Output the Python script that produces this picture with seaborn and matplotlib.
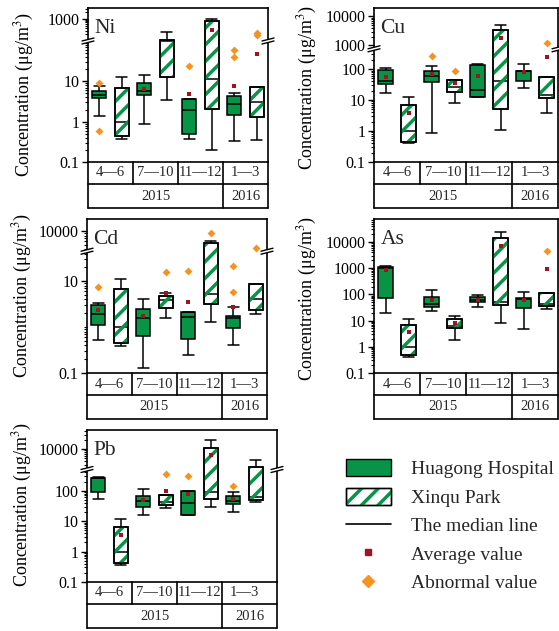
import numpy as np
import pandas as pd
import matplotlib
matplotlib.use("Agg")
import matplotlib.pyplot as plt
import seaborn as sns
from matplotlib.patches import Patch, PathPatch, Polygon
from matplotlib.lines import Line2D
from matplotlib.ticker import FixedLocator, FixedFormatter, NullFormatter

# ---------------- data ----------------
periods = ["4—6", "7—10", "11—12", "1—3"]
years = ["2015", "2016"]
sites = ["Huagong Hospital", "Xinqu Park"]

# five-number summaries per period: (min, Q1, median, Q3, max)
ni_hospital = [(1.35, 3.8, 4.7, 5.7, 7.8), (0.86, 4.7, 5.7, 9.1, 14), (0.37, 0.5, 2.0, 3.6, 3.6), (0.33, 1.5, 2.7, 4.4, 5.0)]
ni_park = [(0.37, 0.43, 1.0, 6.9, 12.5), (3.5, 12.6, 105, 110, 245), (0.2, 2.1, 11.4, 790, 1000), (0.36, 1.3, 3.0, 7.4, 7.4)]
ni_hospital_mean = [None, 6.5, 4.9, 7.8]
ni_park_mean = [None, None, 330, 47]
ni_outliers = [(0, 0, 9.0), (0, 0, 0.6), (2, 0, 24), (3, 0, 60), (3, 0, 41), (3, 1, 235), (3, 1, 180)]

cu_hospital = [(17, 34, 42, 91, 108), (0.87, 37, 61, 88, 128), (13, 13, 21.5, 134, 145), (24.6, 42, 84, 88, 150)]
cu_park = [(0.4, 0.44, 1.0, 6.7, 12.3), (8, 18, 26, 45, 45), (1.1, 5.1, 40, 3300, 5200), (3.8, 11.5, 15, 55, 55)]
cu_hospital_mean = [55, 70, 58, 78]
cu_park_mean = [3.8, 35, 1800, 250]
cu_outliers = [(1, 0, 270), (1, 1, 86), (3, 1, 1240)]

cd_hospital = [(0.52, 1.12, 1.9, 3.1, 3.4), (0.13, 0.63, 1.6, 2.5, 4.1), (0.25, 0.54, 1.65, 2.1, 2.1), (0.4, 0.95, 1.6, 1.78, 2.7)]
cd_park = [(0.38, 0.44, 1.0, 6.6, 11.4), (1.6, 2.6, 3.9, 4.7, 5.6), (1.3, 3.2, 5.2, 5600, 6000), (1.9, 2.3, 4.1, 8.5, 8.5)]
cd_hospital_mean = [2.3, 1.7, 3.6, 2.7]
cd_park_mean = [None, 5.6, None, None]
cd_outliers = [(0, 0, 7.4), (1, 1, 16), (2, 0, 17), (2, 1, 9000), (3, 0, 21), (3, 0, 5.8), (3, 1, 4200)]

as_hospital = [(19.5, 71, 1050, 1100, 1230), (23, 34, 43, 77, 146), (34, 50, 61, 82, 94), (4.7, 29.5, 65, 71, 120)]
as_park = [(0.41, 0.47, 1.0, 6.8, 12), (1.8, 5.2, 6.0, 12, 15), (7.8, 39, 52, 14000, 25000), (27.5, 36, 43, 116, 116)]
as_hospital_mean = [830, 61, 63, 61]
as_park_mean = [3.7, 8, 7100, 970]
as_outliers = [(3, 1, 4600)]

pb_hospital = [(55, 93, 260, 270, 290), (16, 29, 47, 69, 113), (16, 16, 39.5, 100, 100), (19.5, 36, 47, 65, 88)]
pb_park = [(0.36, 0.42, 1.0, 6.5, 12), (27, 33, 41.5, 74, 74), (29, 55, 88, 10800, 19600), (44, 50, 62, 2550, 4400)]
pb_hospital_mean = [None, 50, 80, 53]
pb_park_mean = [3.6, 100, 6500, None]
pb_outliers = [(1, 1, 360), (2, 0, 310), (3, 0, 140)]

elements = ["Ni", "Cu", "Cd", "As", "Pb"]
hospital = {"Ni": ni_hospital, "Cu": cu_hospital, "Cd": cd_hospital, "As": as_hospital, "Pb": pb_hospital}
park = {"Ni": ni_park, "Cu": cu_park, "Cd": cd_park, "As": as_park, "Pb": pb_park}
hospital_mean = {"Ni": ni_hospital_mean, "Cu": cu_hospital_mean, "Cd": cd_hospital_mean, "As": as_hospital_mean, "Pb": pb_hospital_mean}
park_mean = {"Ni": ni_park_mean, "Cu": cu_park_mean, "Cd": cd_park_mean, "As": as_park_mean, "Pb": pb_park_mean}
outliers = {"Ni": ni_outliers, "Cu": cu_outliers, "Cd": cd_outliers, "As": as_outliers, "Pb": pb_outliers}

# ---------------- layout / style ----------------
GREEN = "#079446"
ORANGE = "#F7921E"
RED = "#A0141E"
FIG_W, FIG_H = 559, 631

# left, top, width, height in pixels
panel_box = {"Ni": (88, 8, 180, 154), "Cu": (374, 8, 184, 154), "Cd": (87, 219, 180, 154),
             "As": (374, 219, 184, 154), "Pb": (87, 430, 190, 152)}
# broken log axis: log10(value) -> pixels above the axes bottom
scale_knots = {"Ni": ([-1, 2, 3], [0, 121, 143]),
               "Cu": ([-1, 2.65, 2.89, 4], [0, 113, 113.3, 145.7]),
               "Cd": ([-1, 1.65, 3.56, 4], [0, 121.7, 122, 141.7]),
               "As": ([-1, 4], [0, 131]),
               "Pb": ([-1, 2.69, 3.32, 4], [0, 112.3, 112.6, 133])}
break_px = {"Ni": 121, "Cu": 113.2, "Cd": 121.8, "Pb": 112.5}
major_ticks = {"Ni": [0.1, 1, 10, 1000], "Cu": [0.1, 1, 10, 100, 1000, 10000],
               "Cd": [0.1, 10, 10000], "As": [0.1, 1, 10, 100, 1000, 10000],
               "Pb": [0.1, 1, 10, 100, 10000]}
tick_text = {0.1: "0.1", 1: "1", 10: "10", 100: "100", 1000: "1000", 10000: "10000"}
xmax = {"Ni": 3.5, "Cu": 3.5, "Cd": 3.5, "As": 3.5, "Pb": 3.72}
ylabel_xy = {"Ni": (-0.29, 0.44), "Cu": (-0.30, 0.48), "Cd": (-0.295, 0.5),
             "As": (-0.30, 0.48), "Pb": (-0.28, 0.51)}
row1_px, row2_px = 22, 24

sns.set_theme(style="ticks")
plt.rcParams["font.family"] = ["Liberation Serif", "DejaVu Serif"]
plt.rcParams["mathtext.fontset"] = "stix"
plt.rcParams["hatch.linewidth"] = 2.5


def make_scale(logs, px):
    logs = np.asarray(logs, float)
    px = np.asarray(px, float)
    s0 = (px[1] - px[0]) / (logs[1] - logs[0])
    s1 = (px[-1] - px[-2]) / (logs[-1] - logs[-2])
    logs = np.concatenate([[logs[0] - 20], logs, [logs[-1] + 20]])
    px = np.concatenate([[px[0] - 20 * s0], px, [px[-1] + 20 * s1]])

    def fwd(v):
        v = np.asarray(v, float)
        return np.interp(np.log10(np.clip(v, 1e-15, None)), logs, px)

    def inv(p):
        return 10 ** np.interp(np.asarray(p, float), px, logs)

    return fwd, inv


def draw_break(ax, frac, w, h):
    dx, rise, gap = 6 / w, 3 / h, 3 / h
    for x0 in (0, 1):
        lo = [(x0 - dx, frac - gap / 2 - rise / 2), (x0 + dx, frac - gap / 2 + rise / 2)]
        hi = [(x0 - dx, frac + gap / 2 - rise / 2), (x0 + dx, frac + gap / 2 + rise / 2)]
        ax.add_patch(Polygon(lo + hi[::-1], closed=True, transform=ax.transAxes, facecolor="white",
                             edgecolor="none", clip_on=False, zorder=8))
        for seg in (lo, hi):
            ax.add_line(Line2D([seg[0][0], seg[1][0]], [seg[0][1], seg[1][1]], transform=ax.transAxes,
                               color="black", lw=1.0, clip_on=False, zorder=9))


fig = plt.figure(figsize=(FIG_W / 100, FIG_H / 100), dpi=100)

for name in elements:
    l, t, w, h = panel_box[name]
    ax = fig.add_axes([l / FIG_W, 1 - (t + h) / FIG_H, w / FIG_W, h / FIG_H])
    fwd, inv = make_scale(*scale_knots[name])
    ax.set_yscale("function", functions=(fwd, inv))

    rows = []
    for site, stats in zip(sites, [hospital[name], park[name]]):
        for per, five in zip(periods, stats):
            for v in five:
                rows.append((per, site, v))
    df = pd.DataFrame(rows, columns=["period", "site", "value"])

    sns.boxplot(data=df, x="period", y="value", hue="site", order=periods, hue_order=sites,
                palette={sites[0]: GREEN, sites[1]: "white"}, saturation=1, width=1.0, gap=0.38,
                whis=(0, 100), linecolor="black", linewidth=1.1, fliersize=0, legend=False,
                capwidths=0.24, ax=ax)

    # green diagonal stripes on the Xinqu Park boxes
    for p in list(ax.patches):
        fc = p.get_facecolor()
        if fc[0] > 0.9 and fc[1] > 0.9 and fc[2] > 0.9:
            ax.add_patch(PathPatch(p.get_path(), transform=p.get_transform(), facecolor="none",
                                   edgecolor=GREEN, linewidth=0, hatch="//", zorder=2.5))
            ax.add_patch(PathPatch(p.get_path(), transform=p.get_transform(), facecolor="none",
                                   edgecolor="black", linewidth=1.1, zorder=2.6))

    mx, my = [], []
    for off, means in ((-0.25, hospital_mean[name]), (0.25, park_mean[name])):
        for i, m in enumerate(means):
            if m is not None:
                mx.append(i + off)
                my.append(m)
    sns.scatterplot(x=mx, y=my, marker="s", color=RED, s=5, linewidth=0, zorder=6, legend=False, ax=ax)
    ox = [i + (-0.25 if s == 0 else 0.25) for i, s, v in outliers[name]]
    oy = [v for i, s, v in outliers[name]]
    sns.scatterplot(x=ox, y=oy, marker="D", color=ORANGE, s=16, linewidth=0, zorder=6, legend=False, ax=ax)

    ax.set_yscale("function", functions=(fwd, inv))
    ax.set_ylim(0.1, float(inv(h)))
    ax.set_xlim(-0.5, xmax[name])
    ax.set_xticks([])
    ax.set_xlabel("")

    majors = major_ticks[name]
    ax.yaxis.set_major_locator(FixedLocator(majors))
    ax.yaxis.set_major_formatter(FixedFormatter([tick_text[m] for m in majors]))
    logs = scale_knots[name][0]
    top = float(inv(h))
    minors = []
    for d in range(-1, 5):
        for k in range(1, 10):
            v = k * 10.0 ** d
            if v in majors or v > top:
                continue
            lv = np.log10(v)
            inside_gap = any(logs[j] < lv < logs[j + 1] and
                             scale_knots[name][1][j + 1] - scale_knots[name][1][j] < 1
                             for j in range(len(logs) - 1))
            if not inside_gap:
                minors.append(v)
    ax.yaxis.set_minor_locator(FixedLocator(minors))
    ax.yaxis.set_minor_formatter(NullFormatter())
    ax.tick_params(axis="y", which="major", direction="out", length=4, width=1, labelsize=11.5,
                   pad=2, color="black", labelcolor="black")
    ax.tick_params(axis="y", which="minor", direction="out", length=2, width=0.8, color="black")
    ax.tick_params(axis="y", right=False)
    for sp in ax.spines.values():
        sp.set_visible(True)
        sp.set_linewidth(1.2)
        sp.set_color("black")

    ax.set_ylabel("Concentration (μg/m$^3$)", fontsize=13, color="black")
    ax.yaxis.set_label_coords(*ylabel_xy[name])
    ax.text(0.035, 0.93, name, transform=ax.transAxes, fontsize=15.5, va="top", ha="left", zorder=10)

    if name in break_px:
        draw_break(ax, break_px[name] / h, w, h)

    # period / year table under the axes
    r1, r2 = row1_px / h, row2_px / h
    tr = ax.get_xaxis_transform()
    kw = dict(color="black", lw=1.2, clip_on=False)
    ax.plot([-0.5, xmax[name]], [-r1, -r1], transform=tr, **kw)
    ax.plot([-0.5, xmax[name]], [-r1 - r2, -r1 - r2], transform=tr, **kw)
    for xv in (-0.5, xmax[name]):
        ax.plot([xv, xv], [0, -r1 - r2], transform=tr, **kw)
    for xv in (0.5, 1.5):
        ax.plot([xv, xv], [0, -r1], transform=tr, **kw)
    ax.plot([2.5, 2.5], [0, -r1 - r2], transform=tr, **kw)
    for i, per in enumerate(periods):
        ax.text(i, -r1 / 2, per, transform=tr, ha="center", va="center", fontsize=10.5)
    ax.text(1.0, -r1 - r2 / 2, years[0], transform=tr, ha="center", va="center", fontsize=10.5)
    ax.text((2.5 + xmax[name]) / 2, -r1 - r2 / 2, years[1], transform=tr, ha="center", va="center",
            fontsize=10.5)

legend_handles = [
    Patch(facecolor=GREEN, edgecolor="black", linewidth=1),
    (Patch(facecolor="white", edgecolor="black", linewidth=1),
     Patch(facecolor="none", edgecolor=GREEN, linewidth=0, hatch="//"),
     Patch(facecolor="none", edgecolor="black", linewidth=1)),
    Line2D([], [], color="black", linewidth=1.2),
    Line2D([], [], ls="none", marker="s", markersize=5, color=RED),
    Line2D([], [], ls="none", marker="D", markersize=6, color=ORANGE),
]
legend_labels = [sites[0], sites[1], "The median line", "Average value", "Abnormal value"]
fig.legend(legend_handles, legend_labels, loc="upper left", bbox_to_anchor=(346 / FIG_W, 1 - 459 / FIG_H),
           frameon=False, fontsize=14, handlelength=2.3, handleheight=1.0, handletextpad=1.05,
           labelspacing=0.47, borderpad=0, borderaxespad=0)

fig.savefig("out.png", dpi=100)
